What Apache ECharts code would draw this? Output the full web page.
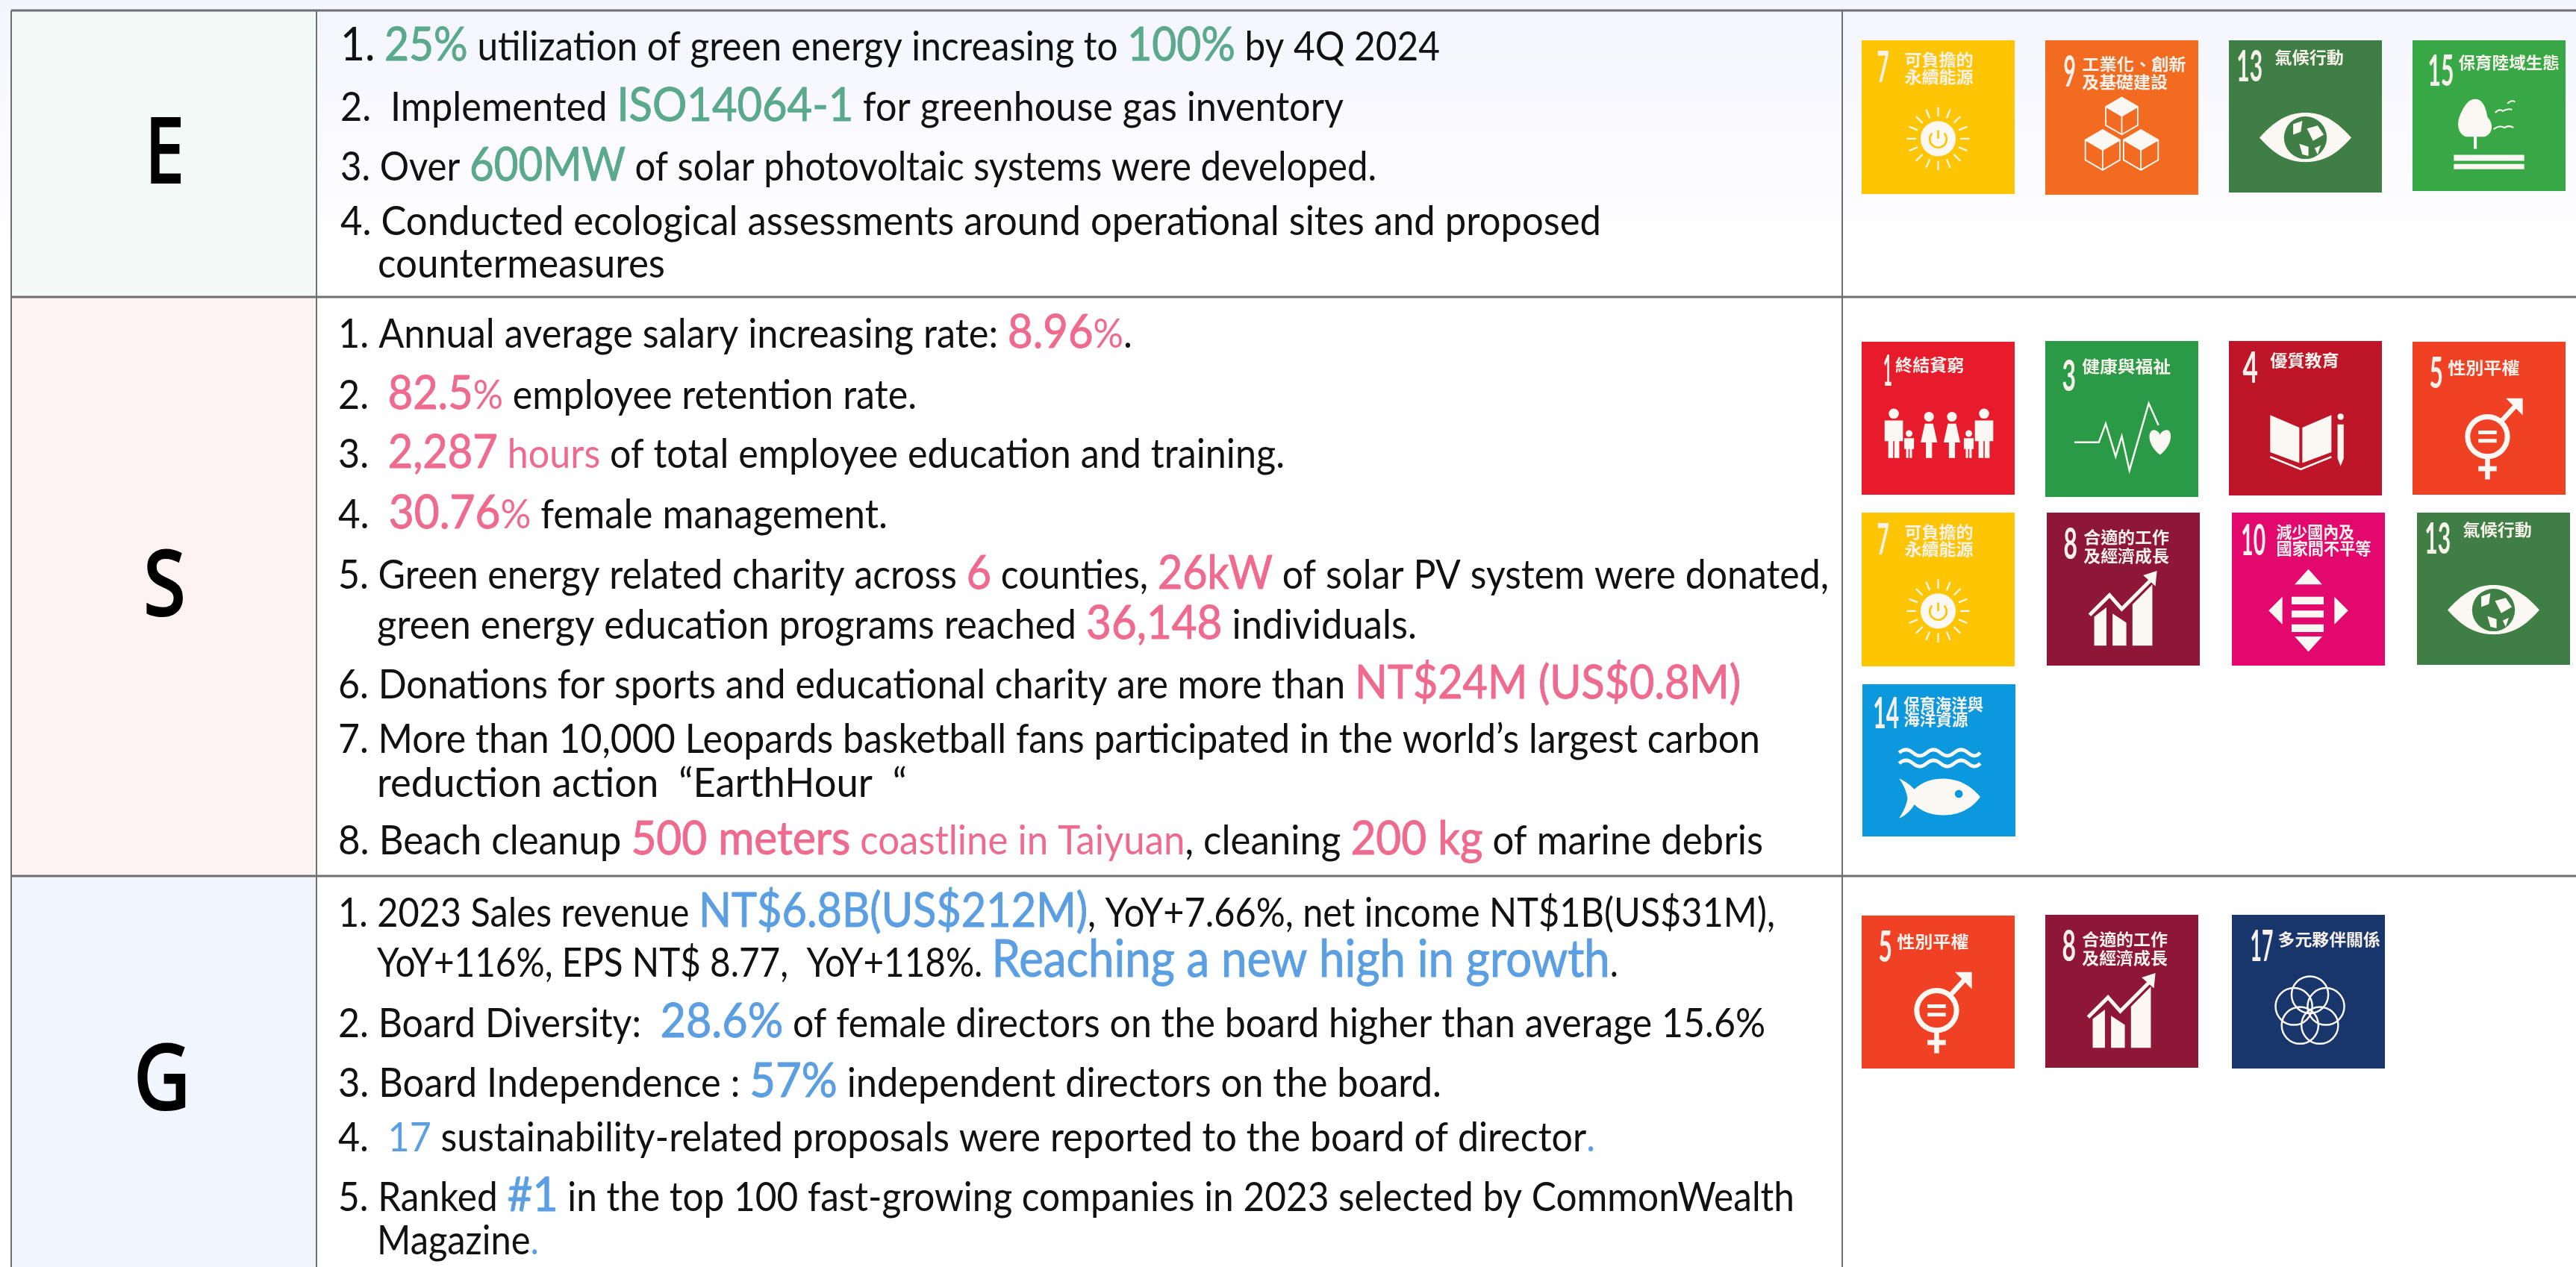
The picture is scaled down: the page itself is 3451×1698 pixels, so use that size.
<!DOCTYPE html>
<html>
<head>
<meta charset="utf-8">
<title>ESG</title>
<style>
  html, body { margin: 0; padding: 0; background: #fff; }
  #chart { width: 3451px; height: 1698px; }
</style>
<script src="https://cdn.jsdelivr.net/npm/echarts@6/dist/echarts.min.js"></script>
</head>
<body>
<div id="chart"></div>
<script>
// table content
const rowLetters = ['E', 'S', 'G'];
const envLines = [
  '{k|1.} {h|25%} utilization of green energy increasing to {h|100%} by 4Q 2024',
  '2.  Implemented {h|ISO14064-1} for greenhouse gas inventory',
  '3. Over {h|600MW} of solar photovoltaic systems were developed.',
  '4. Conducted ecological assessments around operational sites and proposed',
  'countermeasures'
];
const socLines = [
  '1. Annual average salary increasing rate: {h|8.96}{c|%}.',
  '2.  {h|82.5}{c|%} employee retention rate.',
  '3.  {h|2,287} {c|hours} of total employee education and training.',
  '4.  {h|30.76}{c|%} female management.',
  '5. Green energy related charity across {h|6} counties, {h|26kW} of solar PV system were donated,',
  'green energy education programs reached {h|36,148} individuals.',
  '6. Donations for sports and educational charity are more than {h|NT$24M (US$0.8M)}',
  '7. More than 10,000 Leopards basketball fans participated in the world\u2019s largest carbon',
  'reduction action  \u201cEarthHour  \u201c',
  '8. Beach cleanup {h|500 meters} {c|coastline in Taiyuan}, cleaning {h|200 kg} of marine debris'
];
const govLines = [
  '1. 2023 Sales revenue {h|NT$6.8B(US$212M)}, YoY+7.66%, net income NT$1B(US$31M),',
  'YoY+116%, EPS NT$ 8.77,  YoY+118%. {x|Reaching a new high in growth}.',
  '2. Board Diversity:  {h|28.6%} of female directors on the board higher than average 15.6%',
  '3. Board Independence : {h|57%} independent directors on the board.',
  '4.  {c|17} sustainability-related proposals were reported to the board of director{c|.}',
  '5. Ranked {h|#1} in the top 100 fast-growing companies in 2023 selected by CommonWealth',
  'Magazine{c|.}'
];
const envGoals = [7, 9, 13, 15];
const socGoals = [1, 3, 4, 5, 7, 8, 10, 13, 14];
const govGoals = [5, 8, 17];
const goalNames = {
  1: ['終結貧窮'], 3: ['健康與福祉'], 4: ['優質教育'], 5: ['性別平權'],
  7: ['可負擔的', '永續能源'], 8: ['合適的工作', '及經濟成長'], 9: ['工業化、創新', '及基礎建設'],
  10: ['減少國內及', '國家間不平等'], 13: ['氣候行動'], 14: ['保育海洋與', '海洋資源'],
  15: ['保育陸域生態'], 17: ['多元夥伴關係']
};
const goalColors = {
  1: '#e81b2d', 3: '#2a9a47', 4: '#bf1529', 5: '#f04124', 7: '#fdc504', 8: '#8e1738', 9: '#f36b21',
  10: '#e2086e', 13: '#3f7e44', 14: '#0c98dc', 15: '#38a846', 17: '#19366c'
};

// layout: [x, baseline, right end] per text line
const envPos = [[456, 81, 1929], [456, 162, 1800], [456, 242, 1844], [456, 315, 2145], [506, 372, 891]];
const socPos = [[453, 466, 1517], [453, 548, 1228], [453, 627, 1721], [453, 708, 1189], [453, 789, 2450],
  [505, 856, 1898], [453, 936, 2332], [453, 1009, 2358], [505, 1068, 1215], [453, 1145, 2362]];
const govPos = [[453, 1242, 2378], [505, 1309, 2168], [453, 1390, 2365], [453, 1470, 1931], [453, 1543, 2137],
  [453, 1623, 2404], [505, 1681, 722]];
// [x, y, w, h]
const envTiles = [[2494, 54, 205, 206], [2740, 54, 205, 207], [2986, 54, 205, 204], [3232, 54, 205, 202]];
const socTiles = [[2494, 458, 205, 205], [2740, 457, 205, 209], [2986, 457, 205, 207], [3232, 458, 205, 205],
  [2494, 687, 205, 206], [2742, 687, 205, 205], [2990, 687, 205, 205], [3238, 687, 205, 204], [2495, 917, 205, 204]];
const govTiles = [[2494, 1227, 205, 205], [2740, 1226, 205, 205], [2990, 1226, 205, 206]];
// tile captions in tile units: number [x0, x1, baseline], caption lines [x0, x1, baseline]
const captionPos = {
  1: { num: [14, 20, 29], lab: [[22, 67, 19]] },
  3: { num: [11, 20, 32], lab: [[24, 82, 20]] },
  4: { num: [9, 19, 27], lab: [[27, 72, 16.5]] },
  5: { num: [11, 20, 30], lab: [[23, 70, 21]] },
  7: { num: [10, 18, 27], lab: [[28, 73, 16.5], [28, 73, 27.5]] },
  8: { num: [11, 20, 30], lab: [[24, 80, 20], [24, 80, 32]] },
  9: { num: [12, 20, 30], lab: [[24, 92, 19.5], [24, 80, 31]] },
  10: { num: [6, 22, 28], lab: [[29, 80, 16.5], [29, 91, 27.5]] },
  13: { num: [5, 22, 27], lab: [[30, 75, 15]] },
  14: { num: [7, 24, 29], lab: [[27, 79, 17], [27, 69, 27]] },
  15: { num: [10, 27, 30], lab: [[30, 96, 19]] },
  17: { num: [12, 27, 30], lab: [[30, 97, 20]] }
};

const BODY_FONT = 'Lato, "Noto Sans", sans-serif';
const CJK_FONT = '"Noto Sans CJK TC", sans-serif';
const GREEN = '#5aa98b';
const PINK = '#ee6a8e';
const BLUE = '#5b9fe2';
const LINE = '#6f6f71';

const measure = document.createElement('canvas').getContext('2d');
function textWidth(str, font) {
  measure.font = font;
  measure.textBaseline = 'alphabetic';
  return measure.measureText(str).width;
}
// zrender draws text with a middle baseline, so shift it to sit on the alphabetic one
function midShift(font) {
  measure.font = font;
  measure.textBaseline = 'middle';
  return measure.measureText('H').actualBoundingBoxDescent;
}
function textEl(str, x, baseline, font, fill, scaleX, strokeW) {
  const style = { text: str, x: 0, y: 0, font: font, fill: fill, align: 'left', verticalAlign: 'middle' };
  if (strokeW) {
    style.stroke = fill;
    style.lineWidth = strokeW;
  }
  return { type: 'text', x: x, y: baseline - midShift(font), scaleX: scaleX, silent: true, style: style };
}

function splitLine(line) {
  const parts = [];
  const re = /\{([hcxk])\|([^}]*)\}/g;
  let last = 0;
  let m;
  while ((m = re.exec(line))) {
    if (m.index > last) parts.push({ kind: 'n', text: line.slice(last, m.index) });
    parts.push({ kind: m[1], text: m[2] });
    last = re.lastIndex;
  }
  if (last < line.length) parts.push({ kind: 'n', text: line.slice(last) });
  return parts;
}

function lineEls(lines, pos, color, baseSize, bigSize) {
  const sizes = { n: baseSize, c: baseSize, h: bigSize, k: bigSize, x: bigSize + 6 };
  const out = [];
  lines.forEach((line, i) => {
    const parts = splitLine(line);
    parts.forEach(p => {
      p.font = sizes[p.kind] + 'px ' + BODY_FONT;
      p.w = textWidth(p.text, p.font);
    });
    const total = parts.reduce((a, p) => a + p.w, 0);
    const scale = (pos[i][2] - pos[i][0]) / total;
    let x = pos[i][0];
    parts.forEach(p => {
      const black = p.kind === 'n' || p.kind === 'k';
      out.push(textEl(p.text, x, pos[i][1], p.font, black ? '#111' : color, scale, p.kind === 'h' || p.kind === 'x' ? 1 : 0));
      x += p.w * scale;
    });
  });
  return out;
}

// icon helpers, tile units 0-100
function circlePath(cx, cy, r) {
  return 'M' + (cx - r) + ' ' + cy + 'a' + r + ' ' + r + ' 0 1 0 ' + 2 * r + ' 0a' + r + ' ' + r + ' 0 1 0 ' + -2 * r + ' 0Z';
}
function cubePaths(cx, cy, r) {
  const d = r * 0.87;
  const hex = 'M' + cx + ' ' + (cy - r) + 'L' + (cx + d) + ' ' + (cy - r / 2) + 'L' + (cx + d) + ' ' + (cy + r / 2) +
    'L' + cx + ' ' + (cy + r) + 'L' + (cx - d) + ' ' + (cy + r / 2) + 'L' + (cx - d) + ' ' + (cy - r / 2) + 'Z' +
    'M' + cx + ' ' + cy + 'L' + cx + ' ' + (cy + r) + 'M' + cx + ' ' + cy + 'L' + (cx - d) + ' ' + (cy - r / 2) +
    'M' + cx + ' ' + cy + 'L' + (cx + d) + ' ' + (cy - r / 2);
  const top = 'M' + cx + ' ' + (cy - r) + 'L' + (cx + d) + ' ' + (cy - r / 2) + 'L' + cx + ' ' + cy + 'L' + (cx - d) + ' ' + (cy - r / 2) + 'Z';
  return [{ s: hex, lw: 0.9 }, { f: top }];
}
function sunPaths() {
  const items = [{ f: circlePath(50, 64, 11.5) }];
  let rays = '';
  for (let a = 0; a < 16; a++) {
    const t = a * Math.PI / 8;
    rays += 'M' + (50 + 14.5 * Math.cos(t)) + ' ' + (64 + 14.5 * Math.sin(t)) + 'L' + (50 + 20.5 * Math.cos(t)) + ' ' + (64 + 20.5 * Math.sin(t));
  }
  items.push({ s: rays, lw: 1.1 });
  items.push({ b: 'M50 58.5L50 64', lw: 1.3 });
  items.push({ b: 'M46 60.5A5.5 5.5 0 1 0 54 60.5', lw: 1.3 });
  return items;
}
function personPath(x, head, r, top, bottom, halfW, skirt) {
  const mid = top + (bottom - top) * 0.55;
  const body = skirt
    ? 'M' + (x - halfW * 0.6) + ' ' + top + 'L' + (x + halfW * 0.6) + ' ' + top + 'L' + (x + halfW * 1.2) + ' ' + mid +
      'L' + (x + 2) + ' ' + mid + 'L' + (x + 2) + ' ' + bottom + 'L' + (x - 2) + ' ' + bottom + 'L' + (x - 2) + ' ' + mid +
      'L' + (x - halfW * 1.2) + ' ' + mid + 'Z'
    : 'M' + (x - halfW) + ' ' + top + 'L' + (x + halfW) + ' ' + top + 'L' + (x + halfW) + ' ' + mid + 'L' + (x + halfW * 0.6) + ' ' + mid +
      'L' + (x + halfW * 0.6) + ' ' + bottom + 'L' + (x + 0.4) + ' ' + bottom + 'L' + (x + 0.4) + ' ' + mid + 'L' + (x - 0.4) + ' ' + mid +
      'L' + (x - 0.4) + ' ' + bottom + 'L' + (x - halfW * 0.6) + ' ' + bottom + 'L' + (x - halfW * 0.6) + ' ' + mid + 'L' + (x - halfW) + ' ' + mid + 'Z';
  return circlePath(x, head, r) + body;
}
const goalIcons = {
  1: () => [{ f: personPath(21, 47, 3.3, 51.5, 76, 6) + personPath(31, 60, 2.2, 63, 76, 3.2) +
      personPath(44, 49, 3.2, 53.5, 76, 4.5, true) + personPath(59, 49, 3.2, 53.5, 76, 4.5, true) +
      personPath(70, 60, 2.2, 63, 76, 3.2) + personPath(80, 47, 3.3, 51.5, 76, 6) }],
  3: () => [{ s: 'M19 65L35 65L39.5 53L46 74L50 61L55 83L67.6 40L74 54', lw: 1.2 },
    { f: 'M75 73C66 66 67 57 71 57C73 57 75 59 75 60.5C75 59 77 57 79.5 57C83 57 84 66 75 73Z' }],
  4: () => [{ f: 'M27 48L46 56L46 79L27 72ZM48 56L67 48L67 72L48 79Z' }, { s: 'M27 75L47 83L67 75', lw: 1.2 },
    { f: 'M71 54L75 54L75 76L73 81L71 76Z' + circlePath(73, 49, 2) }],
  5: () => [{ s: circlePath(49, 62, 13), lw: 3.4 }, { f: 'M43 58L55 58L55 60.5L43 60.5ZM43 63.5L55 63.5L55 66L43 66Z' },
    { s: 'M58 52L69 40M49 75L49 90M43 83L55 83', lw: 3.2 }, { f: 'M61 37L72 37L72 48Z' }],
  7: sunPaths,
  8: () => [{ f: 'M31 68L39 62L39 87L31 87ZM43 66L52 72L52 87L43 87ZM56 60L69 47L69 87L56 87Z' },
    { s: 'M28 67L41 54L49 63L68 44', lw: 2.4 }, { f: 'M63 41L72 38L71 48Z' }],
  9: () => cubePaths(50, 49, 12).concat(cubePaths(37.5, 71, 13), cubePaths(62.5, 71, 13)),
  10: () => [{ f: 'M50 37L59 47L41 47ZM50 91L41 81L59 81ZM24 64L33 55L33 73ZM76 64L67 55L67 73Z' +
      'M39 55L60 55L60 60L39 60ZM39 64L60 64L60 68.5L39 68.5ZM39 73L60 73L60 78L39 78Z' }],
  13: () => [{ f: 'M20 64C32 50 42 47.5 50 47.5C58 47.5 68 50 80 64C68 78 58 80 50 80C42 80 32 78 20 64Z' },
    { c: circlePath(50, 64, 14) }, { f: 'M42 55L48 53L47 60L42 62ZM51 58L58 56L62 62L55 66ZM46 68L52 70L52 76L48 75ZM56 71L60 69L58 75Z' }],
  14: () => [{ s: 'M24 45Q28.5 41 33 45T42 45T51 45T60 45T69 45T77 45M24 52Q28.5 48 33 52T42 52T51 52T60 52T69 52T77 52', lw: 2.3 },
    { f: 'M24 62C29 64 32 67 34 69C39 64 46 62 53 62C65 62 73 69 77 74C73 80 65 86 53 86C46 86 39 84 34 79C32 82 29 86 24 88C28 82 29 78 29.5 75C29 71 27 66 24 62Z' },
    { c: circlePath(63, 72, 2.6) }],
  15: () => [{ f: 'M41 39C46 39 48 45 49 51C53 55 53 62 47 64L42 64L42 72L40 72L40 64L35 64C29 62 29 54 31 50C33 45 36 39 41 39Z' },
    { s: 'M54 48Q57 45 59 47Q62 45 65 46M62 42Q65 39 67 41M53 59Q57 56 60 58Q63 56 66 58', lw: 1 },
    { f: 'M27 76L73 76L73 80L27 80ZM27 82L73 82L73 85.5L27 85.5Z' }],
  17: () => {
    let d = '';
    for (let a = 0; a < 5; a++) {
      const t = -Math.PI / 2 + a * 2 * Math.PI / 5;
      d += circlePath(51 + 11 * Math.cos(t), 63 + 11 * Math.sin(t), 12);
    }
    return [{ s: d, lw: 1.2 }];
  }
};

// graphic has no plain path type, so each icon path gets registered as a shape
const shapeNames = {};
function pathShape(pathData) {
  if (!shapeNames[pathData]) {
    shapeNames[pathData] = 'iconPath' + Object.keys(shapeNames).length;
    echarts.graphic.registerShape(shapeNames[pathData], echarts.graphic.extendPath(pathData, {}));
  }
  return shapeNames[pathData];
}

function tileEls(goals, tiles) {
  const out = [];
  goals.forEach((g, i) => {
    const [x, y, w, h] = tiles[i];
    const color = goalColors[g];
    out.push({ type: 'rect', silent: true, shape: { x: x, y: y, width: w, height: h }, style: { fill: color } });
    const cap = captionPos[g];
    const numFont = 'bold 58px ' + BODY_FONT;
    const numW = textWidth(String(g), numFont);
    out.push(textEl(String(g), x + cap.num[0] * w / 100, y + cap.num[2] * h / 100, numFont, '#f6f1ea', (cap.num[1] - cap.num[0]) * w / 100 / numW));
    goalNames[g].forEach((name, k) => {
      const p = cap.lab[k];
      const font = 'bold 22px ' + CJK_FONT;
      out.push(textEl(name, x + p[0] * w / 100, y + p[2] * h / 100, font, '#f6f1ea', (p[1] - p[0]) * w / 100 / textWidth(name, font)));
    });
    goalIcons[g]().forEach(item => {
      const style = {};
      if (item.f) { style.fill = '#fbf8f4'; }
      if (item.c) { style.fill = color; }
      if (item.s) { style.fill = 'none'; style.stroke = '#fbf8f4'; style.lineWidth = item.lw; }
      if (item.b) { style.fill = 'none'; style.stroke = color; style.lineWidth = item.lw; }
      out.push({
        type: pathShape(item.f || item.c || item.s || item.b),
        silent: true, x: x, y: y, scaleX: w / 100, scaleY: h / 100, style: style
      });
    });
  });
  return out;
}

function rectEl(x, y, w, h, fill) {
  return { type: 'rect', silent: true, shape: { x: x, y: y, width: w, height: h }, style: { fill: fill } };
}
function lineEl(x1, y1, x2, y2, width) {
  return { type: 'line', silent: true, shape: { x1: x1, y1: y1, x2: x2, y2: y2 }, style: { stroke: LINE, lineWidth: width } };
}

const rowTop = [14, 398, 1174];
const rowBottom = [398, 1174, 1698];
const rowFills = ['#f2f9f6', '#fef2f3', '#f0f5fe'];
const letterPos = [[195, 246, 244], [193, 248, 824], [180, 254, 1486]];

const elements = [];
elements.push(rectEl(0, 0, 3451, 1698, '#ffffff'));
elements.push(rectEl(0, 0, 3451, 340, new echarts.graphic.LinearGradient(0, 0, 0, 1, [
  { offset: 0, color: '#f4f4fe' }, { offset: 1, color: '#ffffff' }
])));
rowLetters.forEach((letter, i) => {
  elements.push(rectEl(15, rowTop[i], 409, rowBottom[i] - rowTop[i], rowFills[i]));
  const font = '118px "Noto Sans", sans-serif';
  const [x0, x1, base] = letterPos[i];
  elements.push(textEl(letter, x0, base, font, '#000', (x1 - x0) / textWidth(letter, font), 4));
});
elements.push(lineEl(15, 14, 3451, 14, 3));
elements.push(lineEl(15, 398, 3451, 398, 3));
elements.push(lineEl(15, 1174, 3451, 1174, 3));
elements.push(lineEl(15, 14, 15, 1698, 2));
elements.push(lineEl(424, 14, 424, 1698, 2));
elements.push(lineEl(2468, 14, 2468, 1698, 2));

lineEls(envLines, envPos, GREEN, 54, 62).forEach(e => elements.push(e));
lineEls(socLines, socPos, PINK, 54, 62).forEach(e => elements.push(e));
lineEls(govLines, govPos, BLUE, 54, 64).forEach(e => elements.push(e));
tileEls(envGoals, envTiles).forEach(e => elements.push(e));
tileEls(socGoals, socTiles).forEach(e => elements.push(e));
tileEls(govGoals, govTiles).forEach(e => elements.push(e));

const chart = echarts.init(document.getElementById('chart'), null, { renderer: 'canvas' });
chart.setOption({
  animation: false,
  graphic: { elements: elements }
});
</script>
</body>
</html>
